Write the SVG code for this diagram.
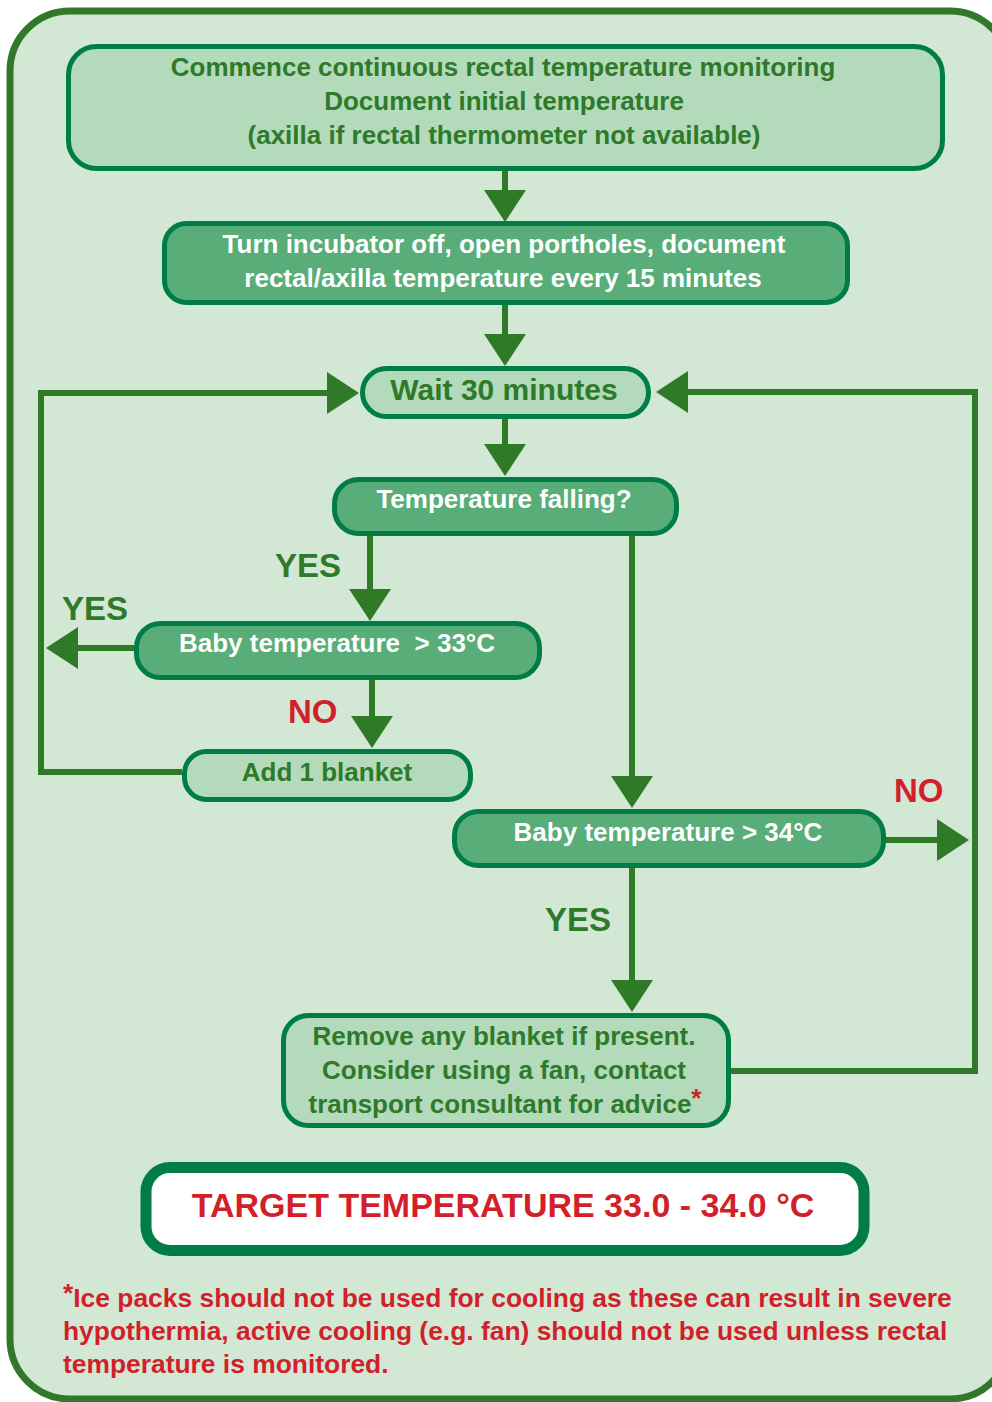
<svg xmlns="http://www.w3.org/2000/svg" width="992" height="1402" viewBox="0 0 992 1402">
<style>
text{font-family:"Liberation Sans",Arial,sans-serif;font-weight:bold}
.light{fill:#b3dbbb;stroke:#007d46;stroke-width:5}
.mid{fill:#58ad78;stroke:#007d46;stroke-width:5}
.conn{fill:none;stroke:#2f7a26;stroke-width:6}
.dk{fill:#2e7a2a;font-size:26px;text-anchor:middle}
.wh{fill:#ffffff;font-size:26px;text-anchor:middle}
.lbl{fill:#2e7a2a;font-size:33px}
.no{fill:#d31f2a;font-size:33px}
.red{fill:#d31f2a}
</style>
<defs>
<marker id="ah" viewBox="0 0 32 42" refX="0" refY="21" markerWidth="32" markerHeight="42" markerUnits="userSpaceOnUse" orient="auto">
<path d="M0,0 L32,21 L0,42 Z" fill="#2f7a26"/>
</marker>
</defs>
<rect x="10" y="11" width="1000" height="1388" rx="60" fill="#d2e8d5" stroke="#31782a" stroke-width="7"/>

<g id="connectors">
<line class="conn" x1="505" y1="170" x2="505" y2="190" marker-end="url(#ah)"/>
<line class="conn" x1="505" y1="304" x2="505" y2="334" marker-end="url(#ah)"/>
<line class="conn" x1="505" y1="419" x2="505" y2="444" marker-end="url(#ah)"/>
<line class="conn" x1="370" y1="536" x2="370" y2="589" marker-end="url(#ah)"/>
<line class="conn" x1="372" y1="680" x2="372" y2="716" marker-end="url(#ah)"/>
<line class="conn" x1="632" y1="536" x2="632" y2="776" marker-end="url(#ah)"/>
<line class="conn" x1="134" y1="648" x2="78" y2="648" marker-end="url(#ah)"/>
<path class="conn" d="M182,772 H41 V393 H327" marker-end="url(#ah)"/>
<line class="conn" x1="886" y1="840" x2="937" y2="840" marker-end="url(#ah)"/>
<path class="conn" d="M731,1071 H975 V392 H688" marker-end="url(#ah)"/>
<line class="conn" x1="632" y1="868" x2="632" y2="980" marker-end="url(#ah)"/>
</g>

<g id="n-commence">
<rect class="light" x="68.5" y="46.5" width="874" height="122" rx="28"/>
<text class="dk" x="503" y="76">Commence continuous rectal temperature monitoring</text>
<text class="dk" x="504" y="110">Document initial temperature</text>
<text class="dk" x="504" y="144">(axilla if rectal thermometer not available)</text>
</g>

<g id="n-incubator">
<rect class="mid" x="164.5" y="223.5" width="683" height="79" rx="22"/>
<text class="wh" x="504" y="253">Turn incubator off, open portholes, document</text>
<text class="wh" x="503" y="287">rectal/axilla temperature every 15 minutes</text>
</g>

<g id="n-wait">
<rect class="light" x="362.5" y="368.5" width="286" height="48" rx="24"/>
<text class="dk" x="504" y="400" style="font-size:30px">Wait 30 minutes</text>
</g>

<g id="n-falling">
<rect class="mid" x="334.5" y="479.5" width="342" height="54" rx="24"/>
<text class="wh" x="504" y="508">Temperature falling?</text>
</g>

<g id="n-baby33">
<rect class="mid" x="136.5" y="623.5" width="403" height="54" rx="24"/>
<text class="wh" x="337" y="652">Baby temperature&#160; &gt; 33°C</text>
</g>

<g id="n-blanket">
<rect class="light" x="184.5" y="751.5" width="286" height="48" rx="22"/>
<text class="dk" x="327" y="781">Add 1 blanket</text>
</g>

<g id="n-baby34">
<rect class="mid" x="454.5" y="811.5" width="429" height="54" rx="24"/>
<text class="wh" x="668" y="841">Baby temperature &gt; 34°C</text>
</g>

<g id="n-remove">
<rect class="light" x="283.5" y="1015.5" width="445" height="110" rx="25"/>
<text class="dk" x="504" y="1045">Remove any blanket if present.</text>
<text class="dk" x="504" y="1079">Consider using a fan, contact</text>
<text class="dk" x="505" y="1113">transport consultant for advice<tspan class="red" dy="-6">*</tspan></text>
</g>

<g id="labels">
<text class="lbl" x="275" y="577">YES</text>
<text class="lbl" x="62" y="620">YES</text>
<text class="no" x="288" y="723">NO</text>
<text class="no" x="894" y="802">NO</text>
<text class="lbl" x="545" y="931">YES</text>
</g>

<g id="n-target">
<rect x="146" y="1167.5" width="718" height="83" rx="24" fill="#ffffff" stroke="#007d46" stroke-width="11"/>
<text class="red" x="503" y="1217" style="font-size:34px;text-anchor:middle">TARGET TEMPERATURE 33.0 - 34.0 °C</text>
</g>

<g id="footnote">
<text class="red" x="63" y="1307" style="font-size:26.4px"><tspan dy="-5">*</tspan><tspan dy="5">Ice packs should not be used for cooling as these can result in severe</tspan></text>
<text class="red" x="63" y="1340" style="font-size:26.4px">hypothermia, active cooling (e.g. fan) should not be used unless rectal</text>
<text class="red" x="63" y="1373" style="font-size:26.4px">temperature is monitored.</text>
</g>
</svg>
